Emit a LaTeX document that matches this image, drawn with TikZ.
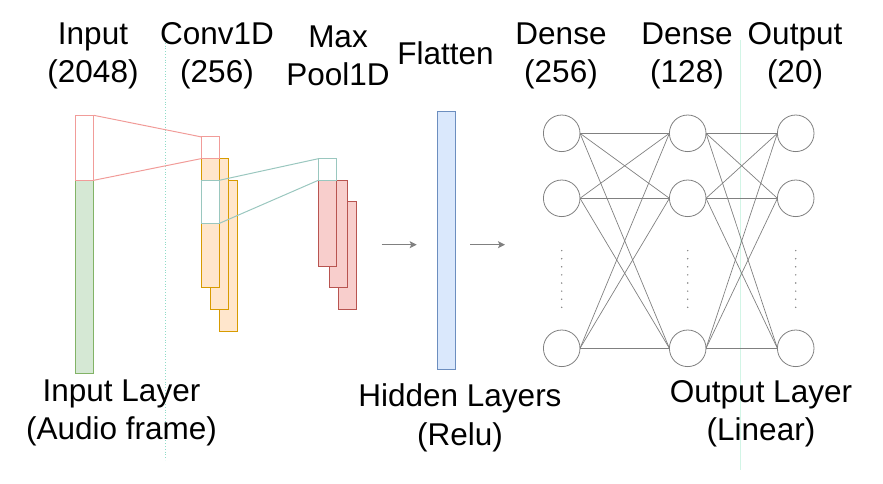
\documentclass[tikz,border=0pt]{standalone}
\usepackage{fontspec}
\setmainfont{Liberation Sans}
\usepackage{xcolor}
\usepackage{tikz}
\usetikzlibrary{arrows.meta}
\usetikzlibrary{positioning}
\definecolor{ingreen}{HTML}{D5E8D4}
\definecolor{ingreendraw}{HTML}{82B366}
\definecolor{winpink}{HTML}{F19C99}
\definecolor{winteal}{HTML}{9AC7BF}
\definecolor{convfill}{HTML}{FFE6CC}
\definecolor{convdraw}{HTML}{D79B00}
\definecolor{poolfill}{HTML}{F8CECC}
\definecolor{pooldraw}{HTML}{B85450}
\definecolor{flatfill}{HTML}{DAE8FC}
\definecolor{flatdraw}{HTML}{6C8EBF}
\definecolor{nngray}{HTML}{808080}
\definecolor{guideteal}{HTML}{8FDCC8}
\definecolor{guidemint}{HTML}{D2F5E6}
\tikzset{>={Stealth[length=7pt,width=7pt,inset=1.5pt]}}
\tikzset{cnn-line/.style={line width=1pt}}
\tikzset{cnn-box/.style={draw, inner sep=0, outer sep=0, minimum width=18.4pt, line width=1pt}}
\tikzset{cnn-input/.style={cnn-box, draw=ingreendraw, fill=ingreen, minimum height=193pt}}
\tikzset{cnn-conv/.style={cnn-box, draw=convdraw, fill=convfill, minimum height=150.7pt}}
\tikzset{cnn-pool/.style={cnn-box, draw=pooldraw, fill=poolfill, minimum height=107.4pt}}
\tikzset{cnn-flat/.style={cnn-box, draw=flatdraw, fill=flatfill, minimum height=258pt}}
\tikzset{cnn-window-red/.style={cnn-box, draw=winpink, fill=white}}
\tikzset{cnn-window-teal/.style={cnn-box, draw=winteal, fill=white}}
\tikzset{nn-unit/.style={circle, draw=nngray, fill=white, inner sep=0, outer sep=0, minimum size=36.6pt, line width=0.8pt}}
\tikzset{nn-edge/.style={draw=nngray, line width=0.7pt}}
\tikzset{nn-dots/.style={draw=nngray, line width=1.6pt, line cap=round, dash pattern=on 0pt off 8.1pt}}
\tikzset{layer-label/.style={align=center, inner sep=0, font=\fontsize{31.5}{38.4}\selectfont}}

\begin{document}
\begin{tikzpicture}[x=1pt, y=-1pt]
            \useasboundingbox (0,0) rectangle (883,483);

            % guides
            \draw[guideteal, line width=0.8pt, dotted] (165.7,40) -- (165.7,460);
            \draw[guidemint, line width=1pt] (740.7,40) -- (740.7,470);

            % input column
            \node[cnn-input] (input) at (84.5,276.8) {};
            \node[cnn-window-red, minimum height=65pt, above=0pt of input] (inwin) {};

            % conv1d maps (back to front)
            \node[cnn-conv] (conv3) at (228.5,255.65) {};
            \node[cnn-conv, anchor=north west, xshift=-9pt, yshift=21.7pt] (conv2) at (conv3.north west) {};
            \node[cnn-conv, anchor=north west, xshift=-9pt, yshift=21.7pt] (conv1) at (conv2.north west) {};
            \node[cnn-window-red, minimum height=21.7pt, anchor=north west] (convwin) at (conv1.north west) {};
            \node[cnn-window-teal, minimum height=43pt, anchor=north west, yshift=-43.3pt] (convsel) at (conv1.north west) {};

            % max pooling maps
            \node[cnn-pool] (pool3) at (347.5,255.5) {};
            \node[cnn-pool, anchor=north west, xshift=-9pt, yshift=21.5pt] (pool2) at (pool3.north west) {};
            \node[cnn-pool, anchor=north west, xshift=-11pt, yshift=21.6pt] (pool1) at (pool2.north west) {};
            \node[cnn-window-teal, minimum height=21.6pt, anchor=north west] (poolwin) at (pool1.north west) {};

            \draw[winpink, cnn-line] (inwin.north east) -- (convwin.north west);
            \draw[winpink, cnn-line] (inwin.south east) -- (convwin.south west);
            \draw[winteal, cnn-line] (convsel.north east) -- (poolwin.north west);
            \draw[winteal, cnn-line] (convsel.south east) -- (poolwin.south west);

            % flatten
            \node[cnn-flat] (flatten) at (446.5,240) {};
            \coordinate (arr1a) at (381.7,244.7);
            \coordinate (arr1b) at (416.7,244.7);
            \coordinate (arr2a) at (470,244.7);
            \coordinate (arr2b) at (505,244.7);
            \draw[->, nngray, cnn-line] (arr1a) -- (arr1b);
            \draw[->, nngray, cnn-line] (arr2a) -- (arr2b);

            % dense layers
            \node[nn-unit] (d1a) at (561.7,133.3) {};
            \node[nn-unit, below=28.4pt of d1a] (d1b) {};
            \node[nn-unit, below=113.4pt of d1b] (d1c) {};

            \node[nn-unit, right=89.4pt of d1a] (d2a) {};
            \node[nn-unit, below=28.4pt of d2a] (d2b) {};
            \node[nn-unit, below=113.4pt of d2b] (d2c) {};

            \node[nn-unit, right=71.4pt of d2a] (d3a) {};
            \node[nn-unit, below=28.4pt of d3a] (d3b) {};
            \node[nn-unit, below=113.4pt of d3b] (d3c) {};

            \draw[nn-edge] (d1a.east) -- (d2a.west);
            \draw[nn-edge] (d1a.east) -- (d2b.west);
            \draw[nn-edge] (d1a.east) -- (d2c.west);
            \draw[nn-edge] (d1b.east) -- (d2a.west);
            \draw[nn-edge] (d1b.east) -- (d2b.west);
            \draw[nn-edge] (d1b.east) -- (d2c.west);
            \draw[nn-edge] (d1c.east) -- (d2a.west);
            \draw[nn-edge] (d1c.east) -- (d2b.west);
            \draw[nn-edge] (d1c.east) -- (d2c.west);

            \draw[nn-edge] (d2a.east) -- (d3a.west);
            \draw[nn-edge] (d2a.east) -- (d3b.west);
            \draw[nn-edge] (d2a.east) -- (d3c.west);
            \draw[nn-edge] (d2b.east) -- (d3a.west);
            \draw[nn-edge] (d2b.east) -- (d3b.west);
            \draw[nn-edge] (d2b.east) -- (d3c.west);
            \draw[nn-edge] (d2c.east) -- (d3a.west);
            \draw[nn-edge] (d2c.east) -- (d3b.west);
            \draw[nn-edge] (d2c.east) -- (d3c.west);

            \draw[nn-dots] ([yshift=-34pt]d1b.south) -- ([yshift=22.7pt]d1c.north);
            \draw[nn-dots] ([yshift=-34pt]d2b.south) -- ([yshift=22.7pt]d2c.north);
            \draw[nn-dots] ([yshift=-34pt]d3b.south) -- ([yshift=22.7pt]d3c.north);

            % labels
            \node[layer-label] (lbl-input) at (93,56) {Input\\(2048)};
            \node[layer-label] (lbl-conv) at (217,56) {Conv1D\\(256)};
            \node[layer-label] (lbl-pool) at (338,56) {Max\\Pool1D};
            \node[layer-label] (lbl-flat) at (445.5,53.7) {Flatten};
            \node[layer-label] (lbl-dense1) at (561,56) {Dense\\(256)};
            \node[layer-label] (lbl-dense2) at (687,56) {Dense\\(128)};
            \node[layer-label] (lbl-out) at (795,56) {Output\\(20)};

            \node[layer-label] (lbl-inlayer) at (121.5,413) {Input Layer\\(Audio frame)};
            \node[layer-label] (lbl-hidden) at (460,418) {Hidden Layers\\(Relu)};
            \node[layer-label] (lbl-outlayer) at (761,414) {Output Layer\\(Linear)};

        \end{tikzpicture}
\end{document}
